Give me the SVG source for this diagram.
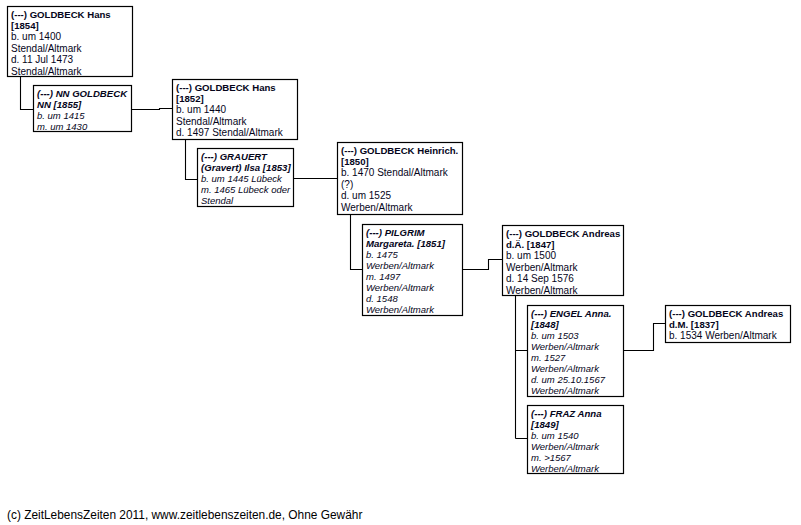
<svg xmlns="http://www.w3.org/2000/svg" width="801" height="525" viewBox="0 0 801 525">
<style>
  .box { fill: #ffffff; stroke: #000000; stroke-width: 1.2; }
  .t { font-family: "Liberation Sans", Arial, sans-serif; font-size: 10px; fill: #05051a; }
  .i { font-style: italic; font-size: 9.5px; }
  .b { font-weight: bold; font-size: 9.6px; }
  .con { fill: none; stroke: #000000; stroke-width: 1.1; }
  .foot { font-family: "Liberation Sans", Arial, sans-serif; font-size: 11.9px; fill: #000000; }
</style>
<rect width="801" height="525" fill="#ffffff"/>
<g id="connectors">
  <path class="con" d="M20.5,76.5 V109.5 H33.5"/>
  <path class="con" d="M131.5,109.5 H159.5 V108.5 H172.5"/>
  <path class="con" d="M185.5,139.5 V179.5 H197.5"/>
  <path class="con" d="M293.5,178.5 H337.5"/>
  <path class="con" d="M350.5,214.5 V269.5 H362.5"/>
  <path class="con" d="M462.5,269.5 H488.5 V259.5 H502.5"/>
  <path class="con" d="M515.5,295.5 V438.5 M515.5,350.5 H527.5 M515.5,438.5 H527.5"/>
  <path class="con" d="M623.5,350.5 H653.5 V323.5 H665.5"/>
</g>
<g id="n1854">
  <rect class="box" x="7.5" y="6.5" width="125" height="70"/>
  <text class="t" x="11" y="17.5"><tspan class="b">(---) GOLDBECK Hans</tspan><tspan class="b" x="11" dy="11.4">[1854]</tspan><tspan x="11" dy="11.4">b. um 1400</tspan><tspan x="11" dy="11.4">Stendal/Altmark</tspan><tspan x="11" dy="11.4">d. 11 Jul 1473</tspan><tspan x="11" dy="11.4">Stendal/Altmark</tspan></text>
</g>
<g id="n1855">
  <rect class="box" x="33.5" y="85.5" width="98" height="46"/>
  <text class="t i" x="37" y="96.5"><tspan class="b">(---) NN GOLDBECK</tspan><tspan class="b" x="37" dy="11.2">NN [1855]</tspan><tspan x="37" dy="11.2">b. um 1415</tspan><tspan x="37" dy="11.2">m. um 1430</tspan></text>
</g>
<g id="n1852">
  <rect class="box" x="172.5" y="79.5" width="125" height="60"/>
  <text class="t" x="176" y="90.5"><tspan class="b">(---) GOLDBECK Hans</tspan><tspan class="b" x="176" dy="11.4">[1852]</tspan><tspan x="176" dy="11.4">b. um 1440</tspan><tspan x="176" dy="11.4">Stendal/Altmark</tspan><tspan x="176" dy="11.4">d. 1497 Stendal/Altmark</tspan></text>
</g>
<g id="n1853">
  <rect class="box" x="197.5" y="148.5" width="96" height="58"/>
  <text class="t i" x="201" y="159.5"><tspan class="b">(---) GRAUERT</tspan><tspan class="b" x="201" dy="11.2">(Gravert) Ilsa [1853]</tspan><tspan x="201" dy="11.2">b. um 1445 Lübeck</tspan><tspan x="201" dy="11.2">m. 1465 Lübeck oder</tspan><tspan x="201" dy="11.2">Stendal</tspan></text>
</g>
<g id="n1850">
  <rect class="box" x="337.5" y="142.5" width="125" height="72"/>
  <text class="t" x="341" y="153.5"><tspan class="b">(---) GOLDBECK Heinrich.</tspan><tspan class="b" x="341" dy="11.4">[1850]</tspan><tspan x="341" dy="11.4">b. 1470 Stendal/Altmark</tspan><tspan x="341" dy="11.4">(?)</tspan><tspan x="341" dy="11.4">d. um 1525</tspan><tspan x="341" dy="11.4">Werben/Altmark</tspan></text>
</g>
<g id="n1851">
  <rect class="box" x="362.5" y="224.5" width="100" height="91"/>
  <text class="t i" x="366" y="235.5"><tspan class="b">(---) PILGRIM</tspan><tspan class="b" x="366" dy="11.1">Margareta. [1851]</tspan><tspan x="366" dy="11.1">b. 1475</tspan><tspan x="366" dy="11.1">Werben/Altmark</tspan><tspan x="366" dy="11.1">m. 1497</tspan><tspan x="366" dy="11.1">Werben/Altmark</tspan><tspan x="366" dy="11.1">d. 1548</tspan><tspan x="366" dy="11.1">Werben/Altmark</tspan></text>
</g>
<g id="n1847">
  <rect class="box" x="502.5" y="225.5" width="121" height="70"/>
  <text class="t" x="506" y="236.5"><tspan class="b">(---) GOLDBECK Andreas</tspan><tspan class="b" x="506" dy="11.4">d.Ä. [1847]</tspan><tspan x="506" dy="11.4">b. um 1500</tspan><tspan x="506" dy="11.4">Werben/Altmark</tspan><tspan x="506" dy="11.4">d. 14 Sep 1576</tspan><tspan x="506" dy="11.4">Werben/Altmark</tspan></text>
</g>
<g id="n1848">
  <rect class="box" x="527.5" y="305.5" width="96" height="91"/>
  <text class="t i" x="531" y="316.5"><tspan class="b">(---) ENGEL Anna.</tspan><tspan class="b" x="531" dy="11.1">[1848]</tspan><tspan x="531" dy="11.1">b. um 1503</tspan><tspan x="531" dy="11.1">Werben/Altmark</tspan><tspan x="531" dy="11.1">m. 1527</tspan><tspan x="531" dy="11.1">Werben/Altmark</tspan><tspan x="531" dy="11.1">d. um 25.10.1567</tspan><tspan x="531" dy="11.1">Werben/Altmark</tspan></text>
</g>
<g id="n1849">
  <rect class="box" x="527.5" y="405.5" width="96" height="68"/>
  <text class="t i" x="531" y="416.5"><tspan class="b">(---) FRAZ Anna</tspan><tspan class="b" x="531" dy="11.1">[1849]</tspan><tspan x="531" dy="11.1">b. um 1540</tspan><tspan x="531" dy="11.1">Werben/Altmark</tspan><tspan x="531" dy="11.1">m. &gt;1567</tspan><tspan x="531" dy="11.1">Werben/Altmark</tspan></text>
</g>
<g id="n1837">
  <rect class="box" x="665.5" y="305.5" width="125" height="37"/>
  <text class="t" x="669" y="316.5"><tspan class="b">(---) GOLDBECK Andreas</tspan><tspan class="b" x="669" dy="11.4">d.M. [1837]</tspan><tspan x="669" dy="11.4">b. 1534 Werben/Altmark</tspan></text>
</g>
<text class="foot" x="7" y="519">(c) ZeitLebensZeiten 2011, www.zeitlebenszeiten.de, Ohne Gewähr</text>
</svg>
